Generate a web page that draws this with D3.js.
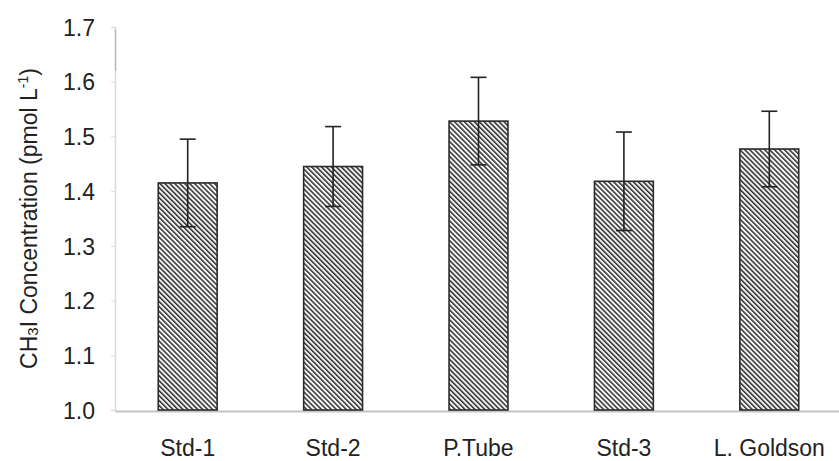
<!DOCTYPE html>
<html>
<head>
<meta charset="utf-8">
<script src="https://cdn.jsdelivr.net/npm/d3@7/dist/d3.min.js"></script>
<style>
  html, body { margin: 0; padding: 0; background: #fff; }
  svg { display: block; }
  text { font-family: "Liberation Sans", Arial, sans-serif; fill: #222; }
</style>
</head>
<body>
<svg id="chart" width="839" height="461"></svg>
<script>
// Sample sources and mean CH3I concentrations with their error half-widths
const categories = ["Std-1", "Std-2", "P.Tube", "Std-3", "L. Goldson"];
const means = [1.415, 1.445, 1.528, 1.418, 1.477];
const errors = [0.080, 0.073, 0.080, 0.090, 0.069];
const yTicks = [1.0, 1.1, 1.2, 1.3, 1.4, 1.5, 1.6, 1.7];

const svg = d3.select("#chart");
const margin = { left: 115, right: -3, top: 27, bottom: 51 };
const W = 839, H = 461;

const x = d3.scaleBand()
  .domain(categories)
  .range([margin.left, W - margin.right])
  .paddingInner(0.595)
  .paddingOuter(0.2975);

const y = d3.scaleLinear()
  .domain([1.0, 1.7])
  .range([H - margin.bottom, margin.top]);

// Diagonal hatch fill for the bars
const defs = svg.append("defs");
const step = 3.5;
const pat = defs.append("pattern")
  .attr("id", "hatch")
  .attr("patternUnits", "userSpaceOnUse")
  .attr("width", step)
  .attr("height", step)
  .attr("patternTransform", "rotate(-45)");
pat.append("rect").attr("width", step).attr("height", step).attr("fill", "#f6f6f6");
pat.append("rect").attr("x", 0).attr("y", 0).attr("width", 1.5).attr("height", step).attr("fill", "#2e2e2e");

// Y axis: faint line with tick labels
const yAxis = d3.axisLeft(y)
  .tickValues(yTicks)
  .tickFormat(d3.format(".1f"))
  .tickSize(4)
  .tickPadding(16);

const gy = svg.append("g")
  .attr("transform", `translate(${margin.left},0)`)
  .call(yAxis);
gy.select(".domain").attr("stroke", "#dcdcdc").attr("stroke-width", 1.5);
gy.selectAll(".tick line").attr("stroke", "#dcdcdc");
gy.selectAll(".tick text")
  .style("font-size", "23px")
  .attr("dy", "0.36em")
  .attr("fill", "#222");

// Darker upper stretch of the axis line
svg.append("line")
  .attr("x1", margin.left + 0.5).attr("x2", margin.left + 0.5)
  .attr("y1", y(1.695)).attr("y2", y(1.62))
  .attr("stroke", "#b5b5b5").attr("stroke-width", 1.3);

// X axis baseline and category labels
const xAxis = d3.axisBottom(x).tickSize(0).tickPadding(29);
const gx = svg.append("g")
  .attr("transform", `translate(0,${y(1.0) + 1})`)
  .call(xAxis);
gx.select(".domain").attr("stroke", "#c4c4c4").attr("stroke-width", 2);
gx.selectAll(".tick text")
  .style("font-size", "23px")
  .attr("fill", "#222");

// Bars
svg.append("g").selectAll("rect")
  .data(categories)
  .join("rect")
  .attr("x", d => x(d))
  .attr("width", x.bandwidth())
  .attr("y", (d, i) => y(means[i]))
  .attr("height", (d, i) => y(1.0) - y(means[i]))
  .attr("fill", "url(#hatch)")
  .attr("stroke", "#2a2a2a")
  .attr("stroke-width", 1.6);

// Error bars
const eg = svg.append("g").attr("stroke", "#222").attr("stroke-width", 1.6);
categories.forEach((c, i) => {
  const cx = x(c) + x.bandwidth() / 2;
  const hi = y(means[i] + errors[i]);
  const lo = y(means[i] - errors[i]);
  eg.append("line").attr("x1", cx).attr("x2", cx).attr("y1", hi).attr("y2", lo);
  eg.append("line").attr("x1", cx - 8).attr("x2", cx + 8).attr("y1", hi).attr("y2", hi);
  eg.append("line").attr("x1", cx - 8).attr("x2", cx + 8).attr("y1", lo).attr("y2", lo);
});

// Y axis title with subscript and superscript
const title = svg.append("text")
  .attr("transform", `translate(37,${(y(1.0) + y(1.7)) / 2}) rotate(-90)`)
  .attr("text-anchor", "middle")
  .style("font-size", "23px");
title.append("tspan").text("CH");
title.append("tspan").text("3").style("font-size", "15px").attr("dy", 1);
title.append("tspan").text("I Concentration (pmol L").attr("dy", -1);
title.append("tspan").text("-1").style("font-size", "14px").attr("dy", -9);
title.append("tspan").text(")").attr("dy", 9);
</script>
</body>
</html>
